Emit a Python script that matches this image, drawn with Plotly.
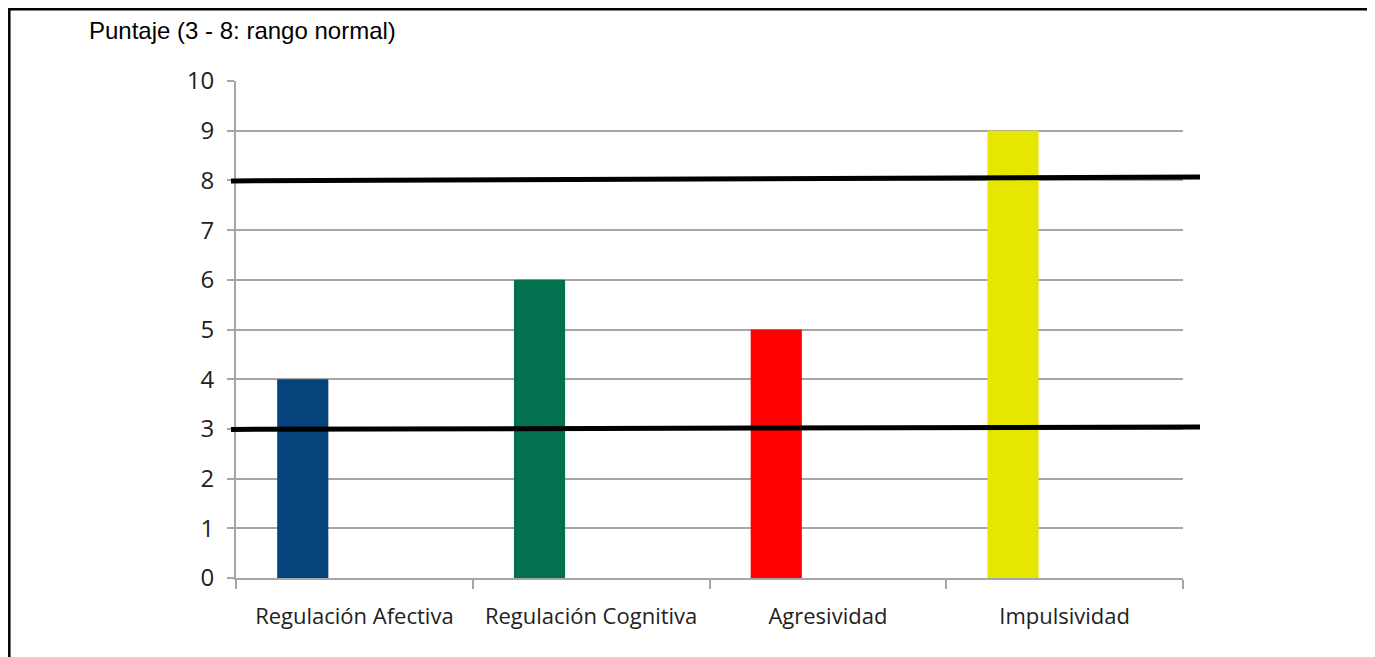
import plotly.graph_objects as go

categories = ["Regulación Afectiva", "Regulación Cognitiva", "Agresividad", "Impulsividad"]
scores = [4, 6, 5, 9]
bar_colors = ["#06437a", "#03704f", "#ff0000", "#e6e600"]
normal_range = [3, 8]
title_text = "Puntaje (3 - 8: rango normal)"

fig = go.Figure()
fig.add_trace(go.Bar(
    x=categories, y=scores,
    marker=dict(color=bar_colors, line=dict(width=0)),
    width=0.216, offset=-0.326,
    showlegend=False,
))

grid = "#a6a6a6"
# page body adds an 8px offset; compensate with size and margins
fig.update_layout(
    width=1367, height=649,
    margin=dict(l=228, r=192, t=73, b=79),
    paper_bgcolor="white", plot_bgcolor="white",
    font=dict(family="Open Sans, sans-serif", color="#222"),
    xaxis=dict(
        type="category", tickson="boundaries", ticks="outside", ticklen=9,
        tickcolor=grid, tickwidth=2, showline=True, linecolor=grid, linewidth=2,
        showgrid=False, tickfont=dict(size=22, family="Open Sans", color="#222"),
        ticklabelstandoff=18, range=[-0.5, 3.5],
    ),
    yaxis=dict(
        range=[0, 10], dtick=1, showgrid=True, gridcolor=grid, gridwidth=2,
        ticks="outside", ticklen=7, tickcolor=grid, tickwidth=2,
        showline=True, linecolor=grid, linewidth=2, zeroline=False,
        tickfont=dict(size=24, family="Open Sans", color="#222"),
        ticklabelstandoff=8,
    ),
)

# normal range lines (slightly extended beyond plot like the original)
left_x = (231 - 236) / 947
right_x = (1200 - 236) / 947
for v, tilt in zip(normal_range, [0.04, 0.07]):
    fig.add_shape(type="line", xref="paper", yref="y",
                  x0=left_x, x1=right_x, y0=v - 0.01, y1=v + tilt,
                  line=dict(color="black", width=5))

# outer border
fig.add_shape(type="rect", xref="paper", yref="paper",
              x0=(9.3 - 236) / 947, x1=(1369 - 236) / 947,
              y0=(578 - 700) / 497, y1=(578 - 9.3) / 497,
              line=dict(color="black", width=2.5))

fig.add_annotation(text=title_text, xref="paper", yref="paper",
                   x=(87 - 236) / 947, y=(578 - 30) / 497,
                   xanchor="left", yanchor="middle", showarrow=False,
                   font=dict(family="Liberation Sans, Arial", size=24, color="black"))

fig.write_html("out.html")
